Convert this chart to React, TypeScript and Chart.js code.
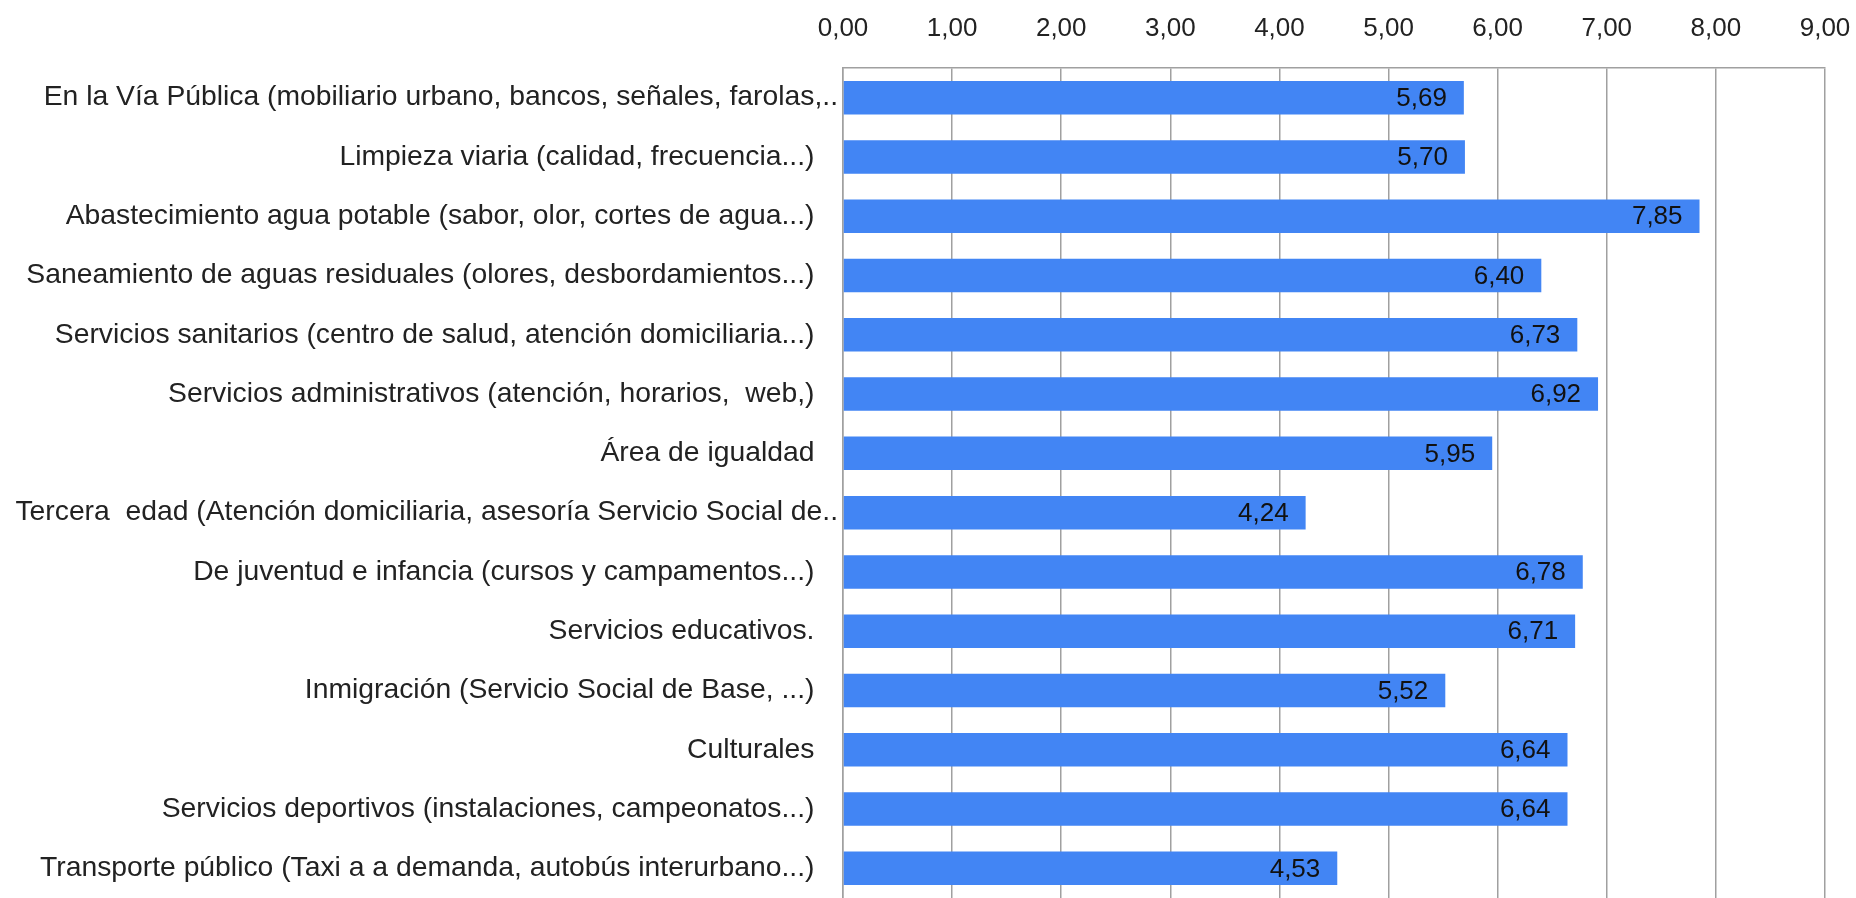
import React, { useEffect, useRef } from "react";
import { Chart, registerables } from "chart.js";

Chart.register(...registerables);

const categories: string[] = [
  "En la Vía Pública (mobiliario urbano, bancos, señales, farolas,..",
  "Limpieza viaria (calidad, frecuencia...)",
  "Abastecimiento agua potable (sabor, olor, cortes de agua...)",
  "Saneamiento de aguas residuales (olores, desbordamientos...)",
  "Servicios sanitarios (centro de salud, atención domiciliaria...)",
  "Servicios administrativos (atención, horarios,  web,)",
  "Área de igualdad",
  "Tercera  edad (Atención domiciliaria, asesoría Servicio Social de..",
  "De juventud e infancia (cursos y campamentos...)",
  "Servicios educativos.",
  "Inmigración (Servicio Social de Base, ...)",
  "Culturales",
  "Servicios deportivos (instalaciones, campeonatos...)",
  "Transporte público (Taxi a a demanda, autobús interurbano...)",
];

const values: number[] = [5.69, 5.7, 7.85, 6.4, 6.73, 6.92, 5.95, 4.24, 6.78, 6.71, 5.52, 6.64, 6.64, 4.53];

const xTickLabels: string[] = ["0,00", "1,00", "2,00", "3,00", "4,00", "5,00", "6,00", "7,00", "8,00", "9,00"];

const FONT_FAMILY = "'Liberation Sans', Arial, sans-serif";
const LABEL_SIZE = 28.3;
const NUM_SIZE = 26;

const valueLabelPlugin = {
  id: "valueLabels",
  afterDatasetsDraw(chart: any) {
    const ctx = chart.ctx;
    const meta = chart.getDatasetMeta(0);
    ctx.save();
    ctx.font = `${NUM_SIZE}px ${FONT_FAMILY}`;
    ctx.fillStyle = "#111111";
    ctx.textAlign = "right";
    ctx.textBaseline = "middle";
    meta.data.forEach((el: any, i: number) => {
      const txt = values[i].toFixed(2).replace(".", ",");
      ctx.fillText(txt, el.x - 17, el.y + 1);
    });
    ctx.restore();
  },
};

export default function App() {
  const canvasRef = useRef<HTMLCanvasElement | null>(null);

  useEffect(() => {
    if (!canvasRef.current) return;
    const chart = new Chart(canvasRef.current, {
      type: "bar",
      data: {
        labels: categories,
        datasets: [
          {
            data: values,
            backgroundColor: "#4285f4",
            borderWidth: 0,
            barPercentage: 0.565,
            categoryPercentage: 1,
          },
        ],
      },
      options: {
        indexAxis: "y",
        responsive: false,
        animation: false,
        layout: { padding: { top: 0, left: 0, right: 31, bottom: -3 } },
        plugins: {
          legend: { display: false },
          tooltip: { enabled: false },
        },
        scales: {
          x: {
            position: "top",
            min: 0,
            max: 9,
            afterFit: (scale: any) => {
              scale.height = 68;
              scale.paddingLeft = 0;
              scale.paddingRight = 0;
              scale.paddingTop = 0;
              scale.paddingBottom = 0;
            },
            ticks: {
              stepSize: 1,
              padding: 24,
              color: "#222222",
              font: { family: FONT_FAMILY, size: NUM_SIZE },
              callback: (_v: any, index: number) => xTickLabels[index],
            },
            grid: {
              color: "#a0a0a0",
              lineWidth: 1.5,
              drawTicks: false,
              tickLength: 0,
            },
            border: { display: true, color: "#a0a0a0", width: 1.5 },
          },
          y: {
            afterFit: (scale: any) => {
              scale.width = 843;
              scale.paddingLeft = 0;
              scale.paddingRight = 0;
              scale.paddingTop = 0;
              scale.paddingBottom = 0;
            },
            ticks: {
              autoSkip: false,
              padding: 5,
              color: "#222222",
              font: { family: FONT_FAMILY, size: LABEL_SIZE },
              // truncated labels ("..") hang into the gap next to the axis, as in the original
              callback: (_v: any, index: number) => {
                const s = categories[index];
                return s.endsWith("..") && !s.endsWith("...") ? s : s + "   ";
              },
            },
            grid: { display: false, drawTicks: false, tickLength: 0 },
            border: { display: true, color: "#a0a0a0", width: 1.5 },
          },
        },
      },
      plugins: [valueLabelPlugin],
    });
    return () => chart.destroy();
  }, []);

  return (
    <div style={{ position: "absolute", left: 0, top: 0, width: 1856, height: 898, background: "#ffffff" }}>
      <canvas ref={canvasRef} width={1856} height={898} style={{ display: "block" }} />
    </div>
  );
}
